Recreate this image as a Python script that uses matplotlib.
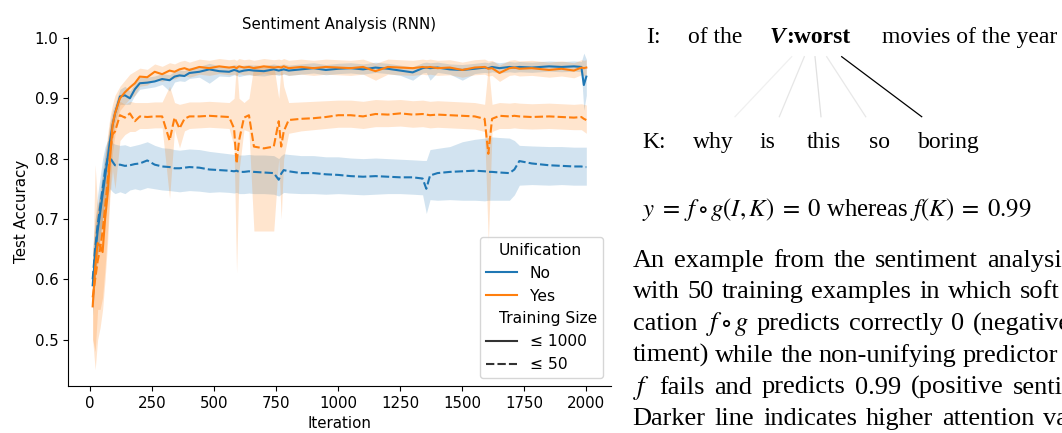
import matplotlib.pyplot as plt
from matplotlib.lines import Line2D

# iteration grid
iters = [10, 20, 30, 40, 50, 60, 70, 80, 90, 100,
         120, 140, 160, 180, 200, 230, 260, 290, 320, 340,
         360, 380, 400, 440, 480, 520, 560, 580, 590, 600,
         620, 640, 660, 700, 740, 760, 770, 780, 800, 850,
         900, 950, 1000, 1050, 1100, 1150, 1200, 1250, 1300, 1340,
         1355, 1370, 1400, 1450, 1500, 1550, 1590, 1605, 1620, 1650,
         1690, 1710, 1730, 1780, 1850, 1900, 1950, 1980, 1990, 2000]

# Unification = No, training size <= 1000
no_1000 = [0.59, 0.64, 0.68, 0.71, 0.74, 0.77, 0.80, 0.83, 0.855, 0.875,
           0.903, 0.905, 0.900, 0.915, 0.925, 0.926, 0.928, 0.932, 0.930, 0.936,
           0.938, 0.937, 0.942, 0.944, 0.948, 0.945, 0.944, 0.947, 0.946, 0.944,
           0.946, 0.947, 0.946, 0.945, 0.948, 0.946, 0.947, 0.948, 0.946, 0.948,
           0.950, 0.947, 0.949, 0.950, 0.948, 0.951, 0.949, 0.946, 0.943, 0.950,
           0.951, 0.950, 0.951, 0.948, 0.947, 0.949, 0.951, 0.950, 0.952, 0.950,
           0.952, 0.951, 0.952, 0.951, 0.953, 0.952, 0.953, 0.952, 0.922, 0.936]
no_1000_lo = [0.54, 0.60, 0.64, 0.67, 0.70, 0.73, 0.77, 0.80, 0.83, 0.86,
              0.89, 0.89, 0.89, 0.905, 0.915, 0.917, 0.919, 0.923, 0.912, 0.927,
              0.929, 0.928, 0.933, 0.935, 0.925, 0.937, 0.936, 0.939, 0.938, 0.936,
              0.938, 0.939, 0.938, 0.937, 0.940, 0.938, 0.939, 0.940, 0.938, 0.940,
              0.942, 0.939, 0.941, 0.942, 0.940, 0.943, 0.941, 0.938, 0.930, 0.942,
              0.943, 0.930, 0.943, 0.940, 0.930, 0.941, 0.943, 0.942, 0.944, 0.942,
              0.944, 0.943, 0.944, 0.943, 0.945, 0.944, 0.945, 0.944, 0.880, 0.905]
no_1000_hi = [0.64, 0.68, 0.72, 0.75, 0.78, 0.81, 0.83, 0.86, 0.88, 0.89,
              0.915, 0.92, 0.912, 0.925, 0.935, 0.935, 0.937, 0.941, 0.939, 0.945,
              0.947, 0.946, 0.951, 0.953, 0.958, 0.954, 0.953, 0.956, 0.955, 0.953,
              0.955, 0.956, 0.955, 0.954, 0.957, 0.955, 0.956, 0.957, 0.955, 0.957,
              0.959, 0.956, 0.958, 0.959, 0.957, 0.960, 0.958, 0.955, 0.952, 0.959,
              0.960, 0.959, 0.960, 0.957, 0.956, 0.958, 0.960, 0.959, 0.961, 0.959,
              0.961, 0.960, 0.961, 0.960, 0.962, 0.961, 0.962, 0.961, 0.975, 0.965]

# Unification = No, training size <= 50
no_50 = [0.60, 0.65, 0.69, 0.72, 0.75, 0.78, 0.80, 0.802, 0.795, 0.789,
         0.790, 0.788, 0.789, 0.791, 0.792, 0.797, 0.790, 0.787, 0.786, 0.784,
         0.784, 0.785, 0.786, 0.785, 0.782, 0.781, 0.780, 0.779, 0.780, 0.778,
         0.778, 0.779, 0.778, 0.777, 0.776, 0.765, 0.775, 0.781, 0.779, 0.776,
         0.776, 0.774, 0.773, 0.771, 0.770, 0.771, 0.770, 0.769, 0.769, 0.767,
         0.750, 0.772, 0.776, 0.778, 0.779, 0.780, 0.779, 0.778, 0.778, 0.777,
         0.776, 0.782, 0.796, 0.792, 0.789, 0.788, 0.787, 0.787, 0.786, 0.786]
no_50_lo = [0.55, 0.60, 0.64, 0.67, 0.70, 0.73, 0.74, 0.75, 0.745, 0.742,
            0.745, 0.742, 0.748, 0.750, 0.748, 0.752, 0.750, 0.748, 0.747, 0.746,
            0.745, 0.746, 0.747, 0.746, 0.744, 0.745, 0.744, 0.743, 0.744, 0.742,
            0.742, 0.743, 0.742, 0.742, 0.741, 0.738, 0.741, 0.744, 0.743, 0.742,
            0.742, 0.741, 0.742, 0.741, 0.740, 0.741, 0.742, 0.742, 0.741, 0.740,
            0.709, 0.732, 0.731, 0.732, 0.731, 0.731, 0.730, 0.731, 0.731, 0.731,
            0.731, 0.740, 0.756, 0.757, 0.756, 0.757, 0.756, 0.756, 0.756, 0.756]
no_50_hi = [0.65, 0.70, 0.74, 0.77, 0.80, 0.82, 0.83, 0.83, 0.826, 0.824,
            0.822, 0.823, 0.820, 0.822, 0.824, 0.828, 0.822, 0.818, 0.817, 0.815,
            0.814, 0.815, 0.816, 0.815, 0.812, 0.810, 0.808, 0.807, 0.808, 0.806,
            0.806, 0.807, 0.806, 0.806, 0.805, 0.800, 0.805, 0.808, 0.807, 0.805,
            0.805, 0.803, 0.803, 0.801, 0.800, 0.801, 0.800, 0.799, 0.798, 0.797,
            0.797, 0.815, 0.817, 0.820, 0.828, 0.832, 0.834, 0.835, 0.836, 0.835,
            0.834, 0.830, 0.822, 0.821, 0.820, 0.820, 0.819, 0.819, 0.819, 0.819]

# Unification = Yes, training size <= 1000
yes_1000 = [0.555, 0.62, 0.66, 0.655, 0.645, 0.70, 0.74, 0.80, 0.855, 0.875,
            0.900, 0.910, 0.918, 0.925, 0.936, 0.935, 0.944, 0.940, 0.946, 0.944,
            0.948, 0.950, 0.947, 0.952, 0.950, 0.953, 0.951, 0.952, 0.950, 0.953,
            0.951, 0.952, 0.950, 0.953, 0.951, 0.952, 0.951, 0.953, 0.950, 0.952,
            0.950, 0.952, 0.951, 0.950, 0.952, 0.945, 0.952, 0.951, 0.950, 0.952,
            0.951, 0.952, 0.950, 0.951, 0.947, 0.951, 0.952, 0.949, 0.950, 0.942,
            0.950, 0.951, 0.949, 0.950, 0.947, 0.949, 0.946, 0.951, 0.950, 0.951]
yes_1000_lo = [0.50, 0.48, 0.55, 0.55, 0.57, 0.62, 0.68, 0.75, 0.81, 0.84,
               0.88, 0.89, 0.90, 0.905, 0.92, 0.922, 0.931, 0.928, 0.933, 0.932,
               0.936, 0.938, 0.935, 0.940, 0.938, 0.941, 0.939, 0.940, 0.938, 0.941,
               0.939, 0.940, 0.938, 0.941, 0.939, 0.940, 0.939, 0.941, 0.938, 0.940,
               0.938, 0.940, 0.939, 0.938, 0.940, 0.930, 0.940, 0.939, 0.938, 0.940,
               0.939, 0.940, 0.938, 0.939, 0.935, 0.939, 0.940, 0.937, 0.938, 0.928,
               0.938, 0.939, 0.937, 0.938, 0.935, 0.937, 0.934, 0.939, 0.938, 0.939]
yes_1000_hi = [0.62, 0.79, 0.72, 0.74, 0.76, 0.80, 0.84, 0.87, 0.89, 0.905,
               0.92, 0.93, 0.94, 0.945, 0.95, 0.948, 0.957, 0.953, 0.959, 0.957,
               0.961, 0.963, 0.960, 0.965, 0.963, 0.966, 0.964, 0.965, 0.963, 0.966,
               0.964, 0.965, 0.963, 0.966, 0.964, 0.965, 0.964, 0.966, 0.963, 0.965,
               0.963, 0.965, 0.964, 0.963, 0.965, 0.958, 0.965, 0.964, 0.963, 0.965,
               0.964, 0.965, 0.963, 0.964, 0.960, 0.964, 0.965, 0.962, 0.963, 0.955,
               0.963, 0.964, 0.962, 0.963, 0.960, 0.962, 0.959, 0.964, 0.963, 0.964]

# Unification = Yes, training size <= 50
yes_50 = [0.57, 0.60, 0.63, 0.65, 0.68, 0.72, 0.76, 0.81, 0.84, 0.845,
          0.872, 0.868, 0.875, 0.862, 0.870, 0.869, 0.870, 0.870, 0.830, 0.868,
          0.850, 0.866, 0.870, 0.870, 0.871, 0.870, 0.869, 0.850, 0.792, 0.830,
          0.868, 0.872, 0.820, 0.817, 0.820, 0.862, 0.820, 0.845, 0.864, 0.866,
          0.867, 0.869, 0.872, 0.872, 0.870, 0.874, 0.873, 0.875, 0.873, 0.874,
          0.873, 0.872, 0.873, 0.872, 0.871, 0.870, 0.866, 0.808, 0.866, 0.871,
          0.870, 0.871, 0.870, 0.869, 0.870, 0.869, 0.868, 0.869, 0.866, 0.864]
yes_50_lo = [0.50, 0.45, 0.50, 0.52, 0.55, 0.60, 0.66, 0.74, 0.78, 0.75,
             0.83, 0.84, 0.845, 0.845, 0.850, 0.850, 0.851, 0.851, 0.734, 0.848,
             0.818, 0.846, 0.850, 0.851, 0.852, 0.851, 0.850, 0.820, 0.610, 0.780,
             0.848, 0.845, 0.680, 0.680, 0.680, 0.800, 0.700, 0.800, 0.842, 0.846,
             0.848, 0.850, 0.852, 0.852, 0.850, 0.853, 0.853, 0.854, 0.852, 0.853,
             0.852, 0.851, 0.852, 0.851, 0.850, 0.849, 0.845, 0.660, 0.845, 0.850,
             0.850, 0.851, 0.850, 0.849, 0.850, 0.849, 0.848, 0.848, 0.845, 0.842]
yes_50_hi = [0.64, 0.70, 0.72, 0.74, 0.77, 0.80, 0.83, 0.86, 0.87, 0.88,
             0.895, 0.89, 0.895, 0.893, 0.893, 0.893, 0.894, 0.894, 0.920, 0.893,
             0.890, 0.892, 0.894, 0.894, 0.895, 0.894, 0.893, 0.900, 0.960, 0.900,
             0.893, 0.900, 0.955, 0.955, 0.955, 0.900, 0.955, 0.920, 0.893, 0.894,
             0.895, 0.896, 0.897, 0.897, 0.895, 0.898, 0.897, 0.898, 0.896, 0.897,
             0.896, 0.895, 0.896, 0.895, 0.894, 0.893, 0.890, 0.955, 0.890, 0.893,
             0.892, 0.893, 0.892, 0.891, 0.892, 0.891, 0.890, 0.891, 0.890, 0.889]

BLUE = "#1f77b4"
ORANGE = "#ff7f0e"

# right-hand panel content
k_words = ["why", "is", "this", "so", "boring"]
attention = [0.10, 0.16, 0.20, 0.15, 1.0]

caption = [
    ["An", "example", "from", "the", "sentiment", "analysis"],
    ["with", "50", "training", "examples", "in", "which", "soft"],
    ["cation", r"$f \circ g$", "predicts", "correctly", "0", "(negative"],
    ["timent)", "while", "the", "non-unifying", "predictor"],
    [r"$f$", "fails", "and", "predicts", "0.99", "(positive", "sentiment"],
    ["Darker", "line", "indicates", "higher", "attention", "values"],
]

SERIF = "Liberation Serif"


def justify(page, renderer, words, y, x0, x_last, size):
    """spread words evenly between a left edge and the last word's start"""
    texts = [page.text(0, y, w, fontsize=size, family=SERIF) for w in words]
    widths = [t.get_window_extent(renderer).width for t in texts]
    gap = (x_last - x0 - sum(widths[:-1])) / (len(words) - 1)
    x = x0
    for t, wd in zip(texts, widths):
        t.set_x(x)
        x += wd + gap


def draw_page(fig, page):
    """text panel on the right, drawn in figure pixel coordinates"""
    renderer = fig.canvas.get_renderer()
    fs = 17
    page.text(646, 43, "I:", fontsize=fs, family=SERIF)
    page.text(688, 43, "of the", fontsize=fs, family=SERIF)
    page.text(770, 43, "V", fontsize=fs, family=SERIF, weight="bold",
              style="italic")
    page.text(786, 43, ":worst", fontsize=fs, family=SERIF, weight="bold")
    page.text(882, 43, "movies of the year", fontsize=fs, family=SERIF)

    page.text(642, 148, "K:", fontsize=fs, family=SERIF)
    k_x = [693, 760, 807, 869, 918]
    for x, w in zip(k_x, k_words):
        page.text(x, 148, w, fontsize=fs, family=SERIF)

    tops = [791.7, 804.3, 815, 826.7, 841.7]
    bottoms = [735, 779.3, 821, 865.7, 921.7]
    for x0, x1, a in zip(tops, bottoms, attention):
        grey = str(round(1 - 0.6 * a, 2)) if a < 1 else "0.0"
        page.plot([x0, x1], [56.7, 116.7], color=grey, lw=0.9)

    page.text(642, 216,
              r"$y\;=\;f\circ g(I,K)\;=\;0$ whereas $f(K)\;=\;0.99$",
              fontsize=17.8, family=SERIF)

    last_starts = [986.7, 1020, 973, 963, 1013, 1043]
    for i, (words, xl) in enumerate(zip(caption, last_starts)):
        justify(page, renderer, words, 266.7 + 31.7 * i, 632.7, xl, 19)


def main():
    """main function"""
    plt.rcParams["mathtext.fontset"] = "stix"
    plt.rcParams["font.size"] = 10.8

    fig = plt.figure(figsize=(10.62, 4.33), dpi=100)
    page = fig.add_axes([0, 0, 1, 1])
    page.set_xlim(0, 1062)
    page.set_ylim(433, 0)
    page.axis("off")
    draw_page(fig, page)

    ax = fig.add_axes([68 / 1062, 47 / 433, 543 / 1062, 348.6 / 433])
    series = [
        (no_1000, no_1000_lo, no_1000_hi, BLUE, "-"),
        (no_50, no_50_lo, no_50_hi, BLUE, "--"),
        (yes_1000, yes_1000_lo, yes_1000_hi, ORANGE, "-"),
        (yes_50, yes_50_lo, yes_50_hi, ORANGE, "--"),
    ]
    for mean, lo, hi, color, ls in series:
        line, = ax.plot(iters, mean, color=color, lw=1.5)
        if ls == "--":
            line.set_dashes((4, 1.5))
        ax.fill_between(iters, lo, hi, color=color, alpha=0.2, lw=0)

    ax.set_xlim(-89.5, 2099.5)
    ax.set_ylim(0.423, 1.001)
    ax.set_xticks([0, 250, 500, 750, 1000, 1250, 1500, 1750, 2000])
    ax.set_yticks([0.5, 0.6, 0.7, 0.8, 0.9, 1.0])
    ax.spines["top"].set_visible(False)
    ax.spines["right"].set_visible(False)
    ax.set_title("Sentiment Analysis (RNN)", fontsize=10.8)
    ax.set_xlabel("Iteration")
    ax.set_ylabel("Test Accuracy")

    blank = Line2D([], [], color="none")
    handles = [blank, Line2D([], [], color=BLUE, lw=1.5),
               Line2D([], [], color=ORANGE, lw=1.5), blank,
               Line2D([], [], color=".2", lw=1.5),
               Line2D([], [], color=".2", lw=1.5, dashes=(4, 1.5))]
    labels = ["Unification", "No", "Yes", "Training Size",
              "\u2264 1000", "\u2264 50"]
    leg = ax.legend(handles, labels, loc="lower right", fontsize=11.2)
    for hp in leg._legend_handle_box.get_children()[0].get_children():
        area, text = hp.get_children()
        if text.get_children()[0].get_text() in ("Unification", "Training Size"):
            area.set_width(0)

    fig.savefig("out.png", dpi=100)


if __name__ == "__main__":
    main()
